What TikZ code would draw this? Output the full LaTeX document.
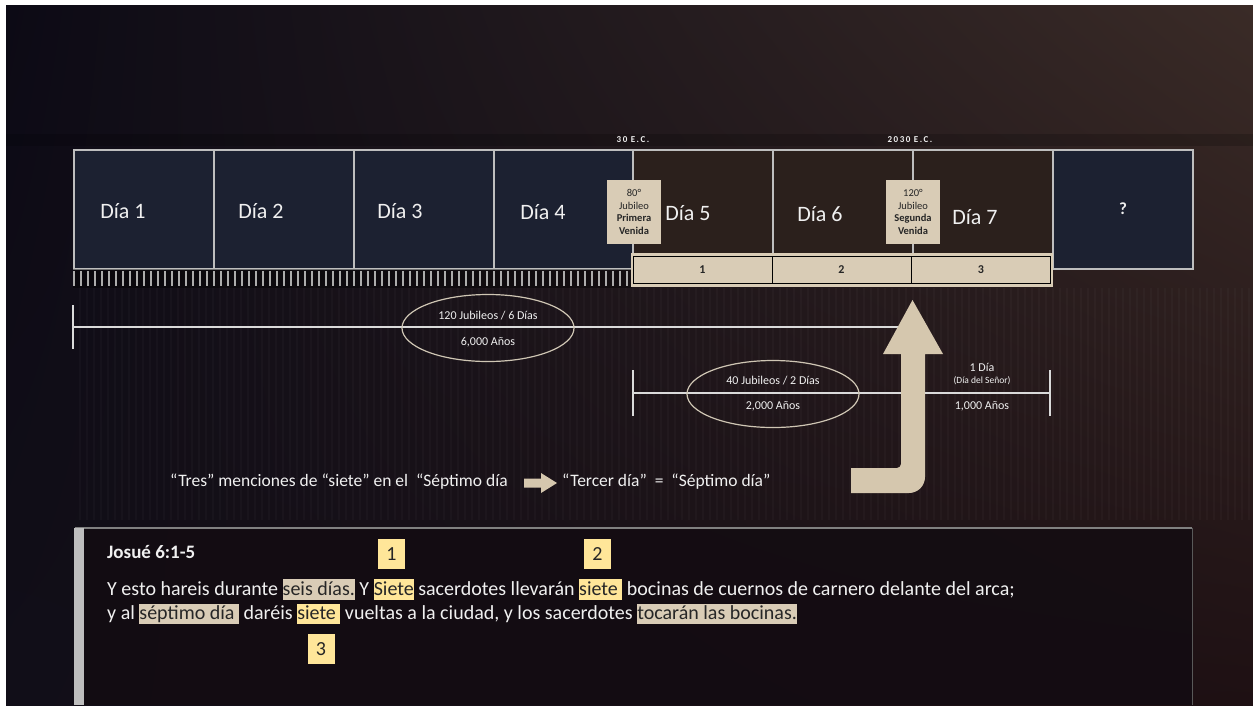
\documentclass[tikz,border=0pt]{standalone}
\usepackage{fontspec}
\setmainfont{Carlito}
\usetikzlibrary{shapes.geometric,shadings}
\definecolor{bgUL}{HTML}{0C0A15}
\definecolor{bgUR}{HTML}{3A2B27}
\definecolor{bgLL}{HTML}{110E18}
\definecolor{bgLR}{HTML}{1E1013}
\definecolor{navy}{HTML}{1C2131}
\definecolor{brownbox}{HTML}{2B201C}
\definecolor{boxline}{HTML}{BEBEBE}
\definecolor{beige}{HTML}{D9CCB6}
\definecolor{arrowbeige}{HTML}{D5C7AE}
\definecolor{hlyellow}{HTML}{FFE699}
\definecolor{txtlight}{HTML}{F0F0F0}
\definecolor{txtdark}{HTML}{262626}
\definecolor{lineclr}{HTML}{DADADA}
\definecolor{ellclr}{HTML}{CFC6B4}
\definecolor{panelfill}{HTML}{130C12}
\newcommand{\hlb}[1]{\begingroup\setlength\fboxsep{0pt}\colorbox{beige}{\color{txtdark}\rule[-0.24em]{0pt}{1.02em}#1}\endgroup}
\newcommand{\hly}[1]{\begingroup\setlength\fboxsep{0pt}\colorbox{hlyellow}{\color{txtdark}\rule[-0.24em]{0pt}{1.02em}#1}\endgroup}
\tikzset{
  daybox/.style={draw=boxline, line width=1.6pt, fill=navy, minimum width=140pt, minimum height=119pt, inner sep=0pt, anchor=north west},
  daybrown/.style={daybox, fill=brownbox, minimum height=104pt},
  daylbl/.style={text=txtlight, font=\fontsize{22}{26}\selectfont, inner sep=0pt},
  era/.style={text=txtlight, font=\bfseries\fontsize{9}{10}\selectfont, inner sep=0pt},
  jubbox/.style={fill=beige, text=txtdark, minimum width=54pt, minimum height=64pt, inner sep=0pt, align=center, font=\fontsize{10.5}{12.7}\selectfont},
  segbox/.style={draw=black, line width=0.9pt, minimum width=139pt, minimum height=26.5pt, inner sep=0pt, text=txtdark, font=\bfseries\fontsize{12}{14}\selectfont},
  tline/.style={draw=lineclr, line width=2.6pt},
  ell/.style={draw=ellclr, line width=1.2pt, ellipse, minimum width=172pt, minimum height=67pt, inner sep=0pt},
  small/.style={text=txtlight, font=\fontsize{12}{14}\selectfont, inner sep=0pt},
  sent/.style={text=txtlight, font=\fontsize{17.5}{21}\selectfont, inner sep=0pt, anchor=west},
  ptext/.style={text=txtlight, font=\fontsize{20}{24}\selectfont, inner sep=0pt, anchor=base west},
  numbox/.style={fill=hlyellow, text=txtdark, minimum width=27pt, minimum height=30pt, inner sep=0pt, font=\fontsize{20}{22}\selectfont}
}
\begin{document}
\begin{tikzpicture}[x=1pt,y=-1pt]
\useasboundingbox (0,0) rectangle (1253,705);
\fill[white] (0,0) rectangle (1253,705);
\shade[upper left=bgUL, upper right=bgUR, lower left=bgLL, lower right=bgLR] (6,5) rectangle (1253,705);
% faint vertical stripes
\foreach \i in {0,...,170}{
  \draw[white, opacity=0.025, line width=1.2pt] (80+\i*7,288) -- (80+\i*7,520);
}
% dark band at era labels
\fill[black, opacity=0.18] (6,134) rectangle (1253,146);
% day boxes
\node[daybox] (d1) at (73,149) {};
\node[daybox] (d2) at (213,149) {};
\node[daybox] (d3) at (353,149) {};
\node[daybox] (d4) at (493,149) {};
\node[daybrown] (d5) at (632,149) {};
\node[daybrown] (d6) at (772,149) {};
\node[daybrown] (d7) at (912,149) {};
\node[daybox] (dq) at (1052,149) {};
% ruler ticks
\fill[black, opacity=0.4] (73,269) rectangle (632,288);
\foreach \i in {0,...,79}{
  \draw[boxline, opacity=0.9, line width=1.1pt] (74+\i*7,271) -- (74+\i*7,286);
}
% beige strip with segments
\fill[beige] (631,253) rectangle (1053,286.5);
\node[segbox] (s1) at (702.5,270) {1};
\node[segbox] (s2) at (841.5,270) {2};
\node[segbox] (s3) at (981,270) {3};
% day labels
\node[daylbl] (l1) at (123,211) {Día 1};
\node[daylbl] (l2) at (261,211) {Día 2};
\node[daylbl] (l3) at (400,211) {Día 3};
\node[daylbl] (l4) at (543,212) {Día 4};
\node[daylbl] (l5) at (688,213) {Día 5};
\node[daylbl] (l6) at (820,214) {Día 6};
\node[daylbl] (l7) at (975,217) {Día 7};
\node[text=txtlight, font=\bfseries\fontsize{17}{19}\selectfont, inner sep=0pt] (lq) at (1123,209) {?};
% era labels
\node[era] (e1) at (633,140) {3\kern1.5pt0\kern3.5pt E\kern1.5pt.\kern1.5pt C\kern1.5pt.};
\node[era] (e2) at (910,140) {2\kern1.5pt0\kern1.5pt3\kern1.5pt0\kern3.5pt E\kern1.5pt.\kern1.5pt C\kern1.5pt.};
% jubilee boxes
\node[jubbox] (j1) at (634,212) {80°\\Jubileo\\\textbf{Primera}\\\textbf{Venida}};
\node[jubbox] (j2) at (913,212) {120°\\Jubileo\\\textbf{Segunda}\\\textbf{Venida}};
% timeline 1
\coordinate (a1) at (73,327);
\coordinate (b1) at (912,327);
\draw[tline] (a1) -- (b1);
\draw[tline] (73,305) -- (73,349);
\node[ell] (el1) at (488,328) {};
\node[small] (t1a) at (488,316) {120 Jubileos / 6 Días};
\node[small] (t1b) at (488,342) {6,000 Años};
% timeline 2
\coordinate (a2) at (633,393);
\coordinate (b2) at (1050,393);
\draw[tline] (a2) -- (b2);
\draw[tline] (a2) ++(0,-23) -- ++(0,46);
\draw[tline] (b2) ++(0,-23) -- ++(0,46);
\node[ell] (el2) at (773,394) {};
\node[small] (t2a) at (773,381) {40 Jubileos / 2 Días};
\node[small] (t2b) at (773,406) {2,000 Años};
\node[small] (t3a) at (982,367) {1 Día};
\node[small, font=\fontsize{9.5}{11}\selectfont] (t3b) at (982,381) {(Día del Señor)};
\node[small] (t3c) at (982,406) {1,000 Años};
% big bent arrow
\fill[arrowbeige] (851,468) -- (897,468) arc[start angle=90, end angle=0, radius=4] -- (901,354) -- (883,354) -- (912.5,300) -- (943,354) -- (925,354) -- (925,477) arc[start angle=0, end angle=90, radius=16] -- (851,493) -- cycle;
% sentence
\node[sent] (q1) at (170,482) {“Tres” menciones de “siete” en el\ \ “Séptimo día};
\fill[arrowbeige] (524,478.5) -- (541,478.5) -- (541,473) -- (557,483) -- (541,493) -- (541,487.5) -- (524,487.5) -- cycle;
\node[sent] (q2) at (562,482) {“Tercer día”\ \ =\ \ “Séptimo día”};
% bottom panel
\fill[panelfill, opacity=0.85] (75,528) rectangle (1192,705);
\draw[gray, line width=1.6pt] (75,528) -- (1192,528);
\draw[gray!70!black, line width=1pt] (1192,528) -- (1192,705);
\fill[boxline] (74,528) rectangle (84,705);
\node[ptext, font=\bfseries\fontsize{19}{22}\selectfont] (jt) at (107,558) {Josué 6:1-5};
\node[ptext] (p1) at (107,595) {Y esto hareis durante \hlb{seis días.} Y \hly{Siete} sacerdotes llevarán \hly{siete\ } bocinas de cuernos de carnero delante del arca;};
\node[ptext] (p2) at (107,619.5) {y al \hlb{séptimo día\ } daréis \hly{siete\ } vueltas a la ciudad, y los sacerdotes \hlb{tocarán las bocinas.}};
\node[numbox] (n1) at (391.5,554) {1};
\node[numbox] (n2) at (597.5,554) {2};
\node[numbox] (n3) at (321,649) {3};
\end{tikzpicture}
\end{document}
